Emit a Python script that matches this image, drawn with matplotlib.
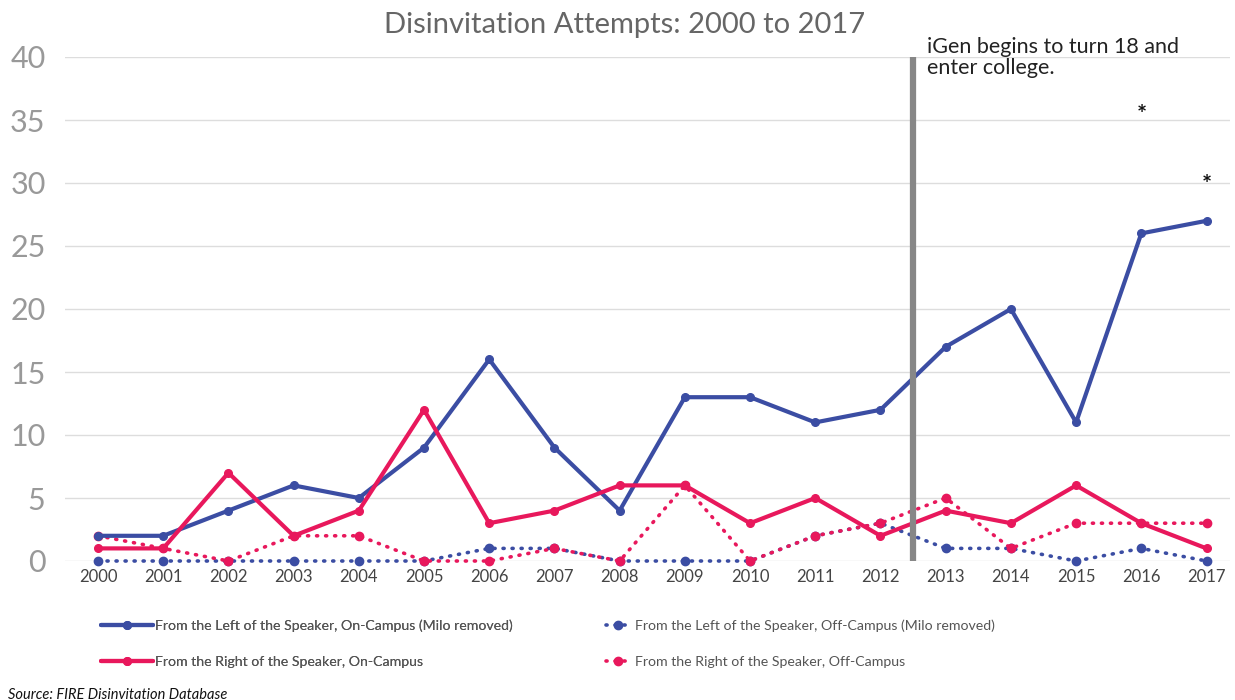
import matplotlib
matplotlib.use("Agg")
import matplotlib.pyplot as plt

years = [str(y) for y in range(2000, 2018)]
left_on = [2, 2, 4, 6, 5, 9, 16, 9, 4, 13, 13, 11, 12, 17, 20, 11, 26, 27]
left_off = [0, 0, 0, 0, 0, 0, 1, 1, 0, 0, 0, 2, 3, 1, 1, 0, 1, 0]
right_on = [1, 1, 7, 2, 4, 12, 3, 4, 6, 6, 3, 5, 2, 4, 3, 6, 3, 1]
right_off = [2, 1, 0, 2, 2, 0, 0, 1, 0, 6, 0, 2, 3, 5, 1, 3, 3, 3]
y_ticks = [0, 5, 10, 15, 20, 25, 30, 35, 40]
milo_years = ["2016", "2017"]
milo_marks = [35.5, 30]

BLUE = "#3B4DA3"
PINK = "#E8185C"

plt.rcParams["font.family"] = ["Lato", "DejaVu Sans"]

W, H = 1235, 700
fig = plt.figure(figsize=(W / 100, H / 100), dpi=100)
ax = fig.add_axes([65 / W, (H - 561) / H, 1165 / W, 504 / H])

x = list(range(len(years)))

l_on, = ax.plot(x, left_on, color=BLUE, lw=3, marker="o", ms=5.5,
                solid_capstyle="round", clip_on=False, zorder=4,
                label="From the Left of the Speaker, On-Campus (Milo removed)")
r_on, = ax.plot(x, right_on, color=PINK, lw=3, marker="o", ms=5.5,
                solid_capstyle="round", clip_on=False, zorder=5,
                label="From the Right of the Speaker, On-Campus")
l_off, = ax.plot(x, left_off, color=BLUE, lw=2.6, ls=(0, (0.3, 2.2)),
                 dash_capstyle="round", marker="o", ms=6, clip_on=False, zorder=3,
                 label="From the Left of the Speaker, Off-Campus (Milo removed)")
r_off, = ax.plot(x, right_off, color=PINK, lw=2.6, ls=(0, (0.3, 2.2)),
                 dash_capstyle="round", marker="o", ms=6, clip_on=False, zorder=3,
                 label="From the Right of the Speaker, Off-Campus")

# iGen marker between 2012 and 2013
ax.axvline(12.5, color="#878787", lw=4.5, zorder=6)
ax.text(12.71, 41.6, "iGen begins to turn 18 and\nenter college.", fontsize=15.5,
        color="#222222", va="top", ha="left", linespacing=1.1, zorder=7)

for yr, v in zip(milo_years, milo_marks):
    ax.text(years.index(yr), v, "*", fontsize=17, fontweight="bold",
            ha="center", va="center_baseline", color="#111111")

ax.set_xlim(-0.506, 17.36)
ax.set_ylim(0, 40)
ax.set_xticks(x)
ax.set_xticklabels(years, fontsize=12, color="#444444")
ax.set_yticks(y_ticks)
ax.set_yticklabels([str(t) for t in y_ticks], fontsize=22, color="#999999")
ax.tick_params(length=0, pad=6)
ax.tick_params(axis="y", pad=14)
ax.grid(axis="y", color="#dddddd", lw=1)
ax.set_axisbelow(True)
for s in ax.spines.values():
    s.set_visible(False)

fig.text(625 / W, 1 - 25 / H, "Disinvitation Attempts: 2000 to 2017",
         ha="center", va="center", fontsize=21, color="#666666")

leg1 = fig.legend(handles=[l_on, r_on], loc="upper left",
                  bbox_to_anchor=(88 / W, 1 - 607 / H), frameon=False,
                  fontsize=10.2, handlelength=3.7, handletextpad=0.1,
                  labelspacing=1.7, labelcolor="#555555")
leg2 = fig.legend(handles=[l_off, r_off], loc="upper left",
                  bbox_to_anchor=(593 / W, 1 - 607 / H), frameon=False,
                  fontsize=10.2, handlelength=1.7, handletextpad=0.35,
                  labelspacing=1.7, labelcolor="#555555")
fig.add_artist(leg1)

fig.text(8 / W, 1 - 695 / H, "Source: FIRE Disinvitation Database",
         fontsize=10.5, style="italic", color="#111111", va="center")

fig.savefig("out.png", dpi=100)
